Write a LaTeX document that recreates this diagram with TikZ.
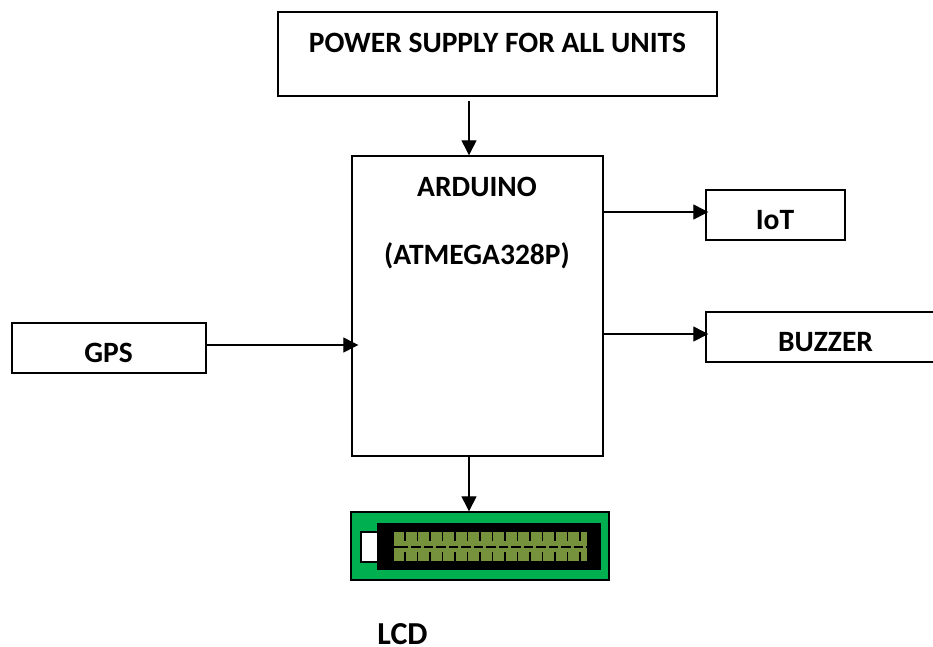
\documentclass[tikz,border=0pt]{standalone}
\usepackage{fontspec}
\setmainfont{Carlito}
\usetikzlibrary{arrows.meta}
\definecolor{lcdgreen}{RGB}{0,176,80}
\definecolor{lcdolive}{RGB}{118,146,60}
\tikzset{
  x=1pt,y=-1pt,
  blockbox/.style={draw=black,line width=1.5pt,fill=white,inner sep=0pt,anchor=north west},
  lbl/.style={font=\fontsize{29.5}{30}\selectfont\bfseries,inner sep=0pt,text=black},
  conn/.style={line width=1.2pt,-{Triangle[length=15pt,width=15pt]}},
  connh/.style={conn,shorten >=-3pt}
}
\begin{document}
\begin{tikzpicture}
\useasboundingbox (0,0) rectangle (933,646);
\node[blockbox,minimum width=439pt,minimum height=84pt] (power) at (277.3,11.3) {};
\node[blockbox,minimum width=251pt,minimum height=300pt] (arduino) at (351.3,155.3) {};
\node[blockbox,minimum width=139pt,minimum height=50pt] (iot) at (705.3,189.3) {};
\node[blockbox,minimum width=240pt,minimum height=50pt] (buzzer) at (705.3,311.3) {};
\node[blockbox,minimum width=194pt,minimum height=50pt] (gps) at (11.3,322.3) {};
\node[draw=black,line width=1.5pt,fill=lcdgreen,inner sep=0pt,anchor=north west,minimum width=258pt,minimum height=68pt] (lcd) at (350.3,511.3) {};
\fill[black] (377,523) rectangle (601,570);
\draw[black,line width=1.3pt,fill=white] (361,532) rectangle (378,562);
\fill[lcdolive] (394,532) rectangle (587,561);
\fill[black] (394,546) rectangle (587,548);
\foreach \i in {0,...,14}{
  \pgfmathsetmacro{\xa}{405+\i*12.5}
  \draw[black,line width=1.3pt] (\xa,532) -- (\xa,541);
  \draw[black,line width=1.3pt] (\xa,552) -- (\xa,561);
  \draw[lcdolive,line width=1.2pt] (\xa+3,547) -- (\xa+6,547);
}
\node[lbl] (tpower) at (497.5,42.5) {POWER SUPPLY FOR ALL UNITS};
\node[lbl] (tard) at (477,187) {ARDUINO};
\node[lbl] (tatm) at (477,255.5) {(ATMEGA328P)};
\node[lbl] (tiot) at (775,220) {IoT};
\node[lbl] (tbuz) at (825.5,342.5) {BUZZER};
\node[lbl] (tgps) at (108.5,353) {GPS};
\node[lbl,font=\fontsize{32}{32}\selectfont\bfseries] (tlcd) at (402.5,634) {LCD};
\coordinate (xtop) at (469,0);
\coordinate (ystart) at (0,101);
\draw[conn] (xtop |- ystart) -- (arduino.north -| xtop);
\draw[conn] (arduino.south -| xtop) -- (lcd.north -| xtop);
\coordinate (yiot) at (0,212);
\coordinate (ybuz) at (0,334);
\coordinate (ygps) at (0,345);
\draw[connh] (arduino.east |- yiot) -- (iot.west |- yiot);
\draw[connh] (arduino.east |- ybuz) -- (buzzer.west |- ybuz);
\draw[connh,shorten >=-7pt] (gps.east |- ygps) -- (arduino.west |- ygps);
\end{tikzpicture}
\end{document}
